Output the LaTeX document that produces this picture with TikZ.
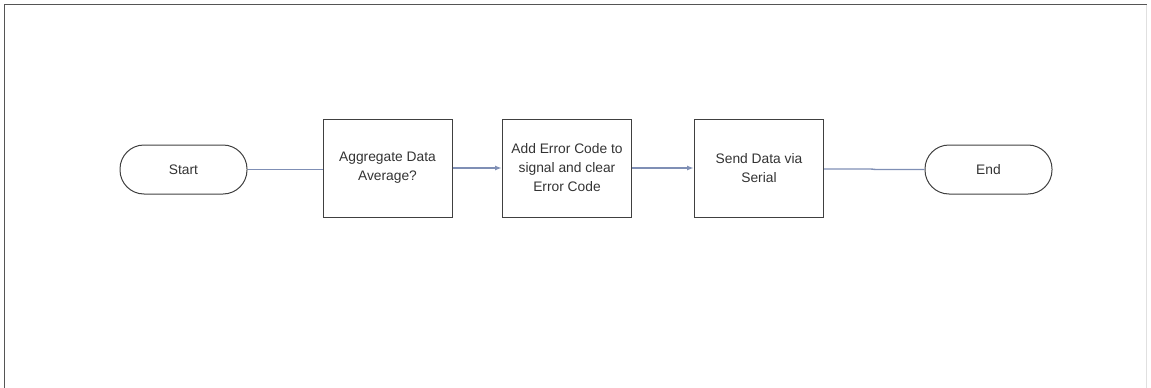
\documentclass[tikz,border=0pt]{standalone}
\usepackage{fontspec}
\setmainfont{Liberation Sans}
\usetikzlibrary{arrows.meta}
\definecolor{conn}{HTML}{7F8FB5}
\definecolor{txt}{HTML}{333333}
\definecolor{frame}{HTML}{555555}
\tikzset{
  every node/.style={font=\fontsize{13.8}{19}\selectfont, text=txt, align=center},
  term/.style={draw=black!75, line width=1pt, rounded corners=24pt, minimum width=127pt, minimum height=49pt, inner sep=0pt},
  proc/.style={draw=black!75, line width=1pt, minimum width=129pt, minimum height=98pt, inner sep=0pt},
  link/.style={draw=conn, line width=1.4pt},
  arr/.style={link, -{Latex[length=7pt,width=5pt]}, fill=conn}
}
\begin{document}
\begin{tikzpicture}[x=1pt,y=-1pt]
\useasboundingbox (0,0) rectangle (1151,388);
\draw[frame, line width=1.2pt] (4.5,395) -- (4.5,4.5) -- (1146.5,4.5);
\draw[black!12, line width=0.8pt] (1146.5,4.5) -- (1146.5,395);
\node[term] (start) at (183.5,169.5) {Start};
\node[proc] (b1) at (387.5,168) {Aggregate Data\\Average?};
\node[proc] (b2) at (567,168) {Add Error Code to\\signal and clear\\Error Code};
\node[proc] (b3) at (759,168) {Send Data via\\Serial};
\node[term] (end) at (988.5,169.5) {End};
\draw[link] (start.east) -- ([xshift=38]start.east) -- ([xshift=-33,yshift=-1.5]b1.west) -- ([yshift=-1.5]b1.west);
\draw[arr] (b1.east) -- (b2.west);
\draw[arr] (b2.east) -- (b3.west);
\draw[link] ([yshift=-1]b3.east) -- ([xshift=47,yshift=-1]b3.east) -- ([xshift=-49]end.west) -- (end.west);
\end{tikzpicture}
\end{document}
